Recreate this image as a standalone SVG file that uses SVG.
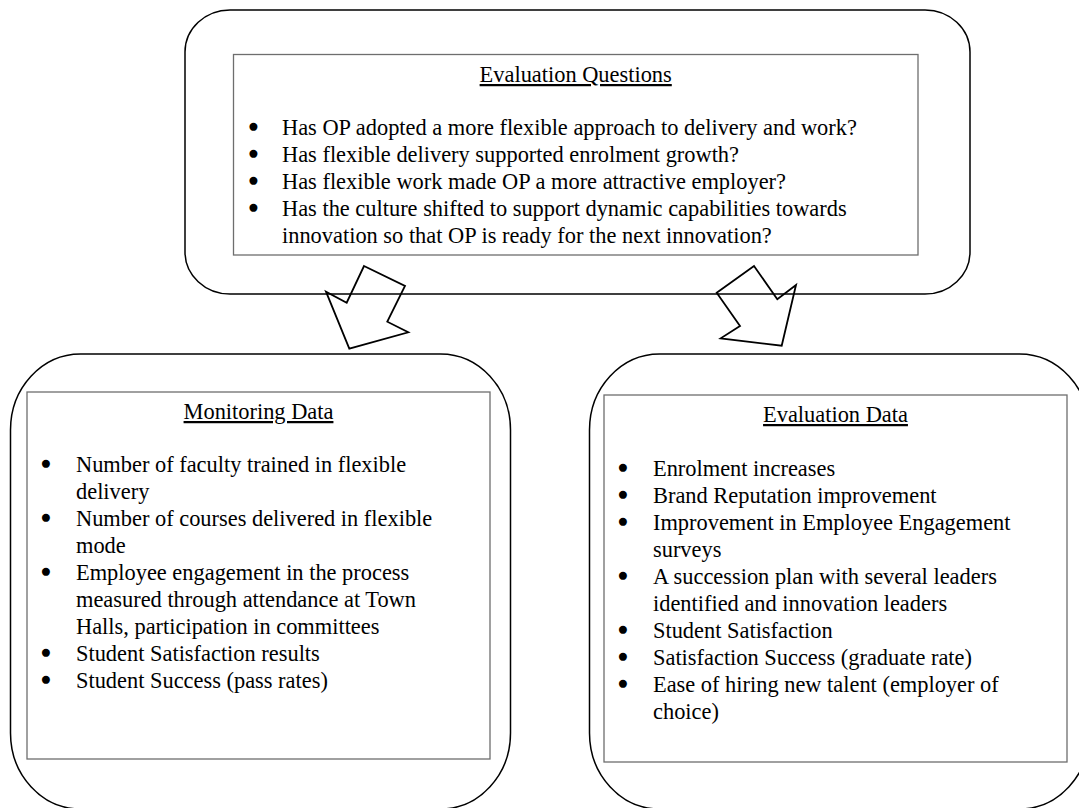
<svg xmlns="http://www.w3.org/2000/svg" width="1079" height="808" viewBox="0 0 1079 808">
  <style>
    .frame { fill: none; stroke: #000; stroke-width: 1.5; }
    .panel { fill: none; stroke: #6e6e6e; stroke-width: 1.3; }
    .t { font-family: "Liberation Serif", "Times New Roman", serif; font-size: 22.4px; fill: #000; }
    .h { text-anchor: middle; text-decoration: underline; }
    .b { text-anchor: middle; stroke: #000; stroke-width: 2.6; stroke-linejoin: round; }
    .arrow { fill: none; stroke: #000; stroke-width: 1.8; stroke-linejoin: miter; }
  </style>
  <rect width="1079" height="808" fill="#fff"/>

  <!-- Evaluation questions -->
  <g id="questions">
    <rect class="frame" x="185" y="10" width="785" height="284" rx="45" ry="42"/>
    <rect class="panel" x="233.5" y="54.5" width="684.5" height="200.5"/>
    <text class="t h" x="575.7" y="82">Evaluation Questions</text>
    <g class="t">
      <text class="b" x="253.3" y="135">•</text>
      <text x="282" y="135">Has OP adopted a more flexible approach to delivery and work?</text>
      <text class="b" x="253.3" y="162">•</text>
      <text x="282" y="162">Has flexible delivery supported enrolment growth?</text>
      <text class="b" x="253.3" y="189">•</text>
      <text x="282" y="189">Has flexible work made OP a more attractive employer?</text>
      <text class="b" x="253.3" y="216">•</text>
      <text x="282" y="216">Has the culture shifted to support dynamic capabilities towards</text>
      <text x="282" y="243">innovation so that OP is ready for the next innovation?</text>
    </g>
  </g>

  <!-- Monitoring data -->
  <g id="monitoring">
    <rect class="frame" x="10.5" y="354" width="500" height="455" rx="70" ry="76"/>
    <rect class="panel" x="27" y="392" width="463" height="367"/>
    <text class="t h" x="258.5" y="419">Monitoring Data</text>
    <g class="t">
      <text class="b" x="46" y="472">•</text>
      <text x="76" y="472">Number of faculty trained in flexible</text>
      <text x="76" y="499">delivery</text>
      <text class="b" x="46" y="526">•</text>
      <text x="76" y="526">Number of courses delivered in flexible</text>
      <text x="76" y="553">mode</text>
      <text class="b" x="46" y="580">•</text>
      <text x="76" y="580">Employee engagement in the process</text>
      <text x="76" y="607">measured through attendance at Town</text>
      <text x="76" y="634">Halls, participation in committees</text>
      <text class="b" x="46" y="661">•</text>
      <text x="76" y="661">Student Satisfaction results</text>
      <text class="b" x="46" y="688">•</text>
      <text x="76" y="688">Student Success (pass rates)</text>
    </g>
  </g>

  <!-- Evaluation data -->
  <g id="evaluation">
    <rect class="frame" x="589.5" y="354" width="500" height="455" rx="70" ry="76"/>
    <rect class="panel" x="604" y="395" width="463" height="367"/>
    <text class="t h" x="835.5" y="422">Evaluation Data</text>
    <g class="t">
      <text class="b" x="623" y="476">•</text>
      <text x="653" y="476">Enrolment increases</text>
      <text class="b" x="623" y="503">•</text>
      <text x="653" y="503">Brand Reputation improvement</text>
      <text class="b" x="623" y="530">•</text>
      <text x="653" y="530">Improvement in Employee Engagement</text>
      <text x="653" y="557">surveys</text>
      <text class="b" x="623" y="584">•</text>
      <text x="653" y="584">A succession plan with several leaders</text>
      <text x="653" y="611">identified and innovation leaders</text>
      <text class="b" x="623" y="638">•</text>
      <text x="653" y="638">Student Satisfaction</text>
      <text class="b" x="623" y="665">•</text>
      <text x="653" y="665">Satisfaction Success (graduate rate)</text>
      <text class="b" x="623" y="692">•</text>
      <text x="653" y="692">Ease of hiring new talent (employer of</text>
      <text x="653" y="719">choice)</text>
    </g>
  </g>

  <!-- Block arrows from the questions down to each data panel -->
  <g id="connectors">
    <path class="arrow" d="M364,266 L405,286 L387.3,321.7 L408.3,332.3 L349.3,348.7 L326,291.7 L346.7,302.7 Z"/>
    <path class="arrow" d="M754,266 L777.3,299.3 L796,285 L781.7,345.7 L720.7,338.3 L740,326 L716.7,292.7 Z"/>
  </g>
</svg>
